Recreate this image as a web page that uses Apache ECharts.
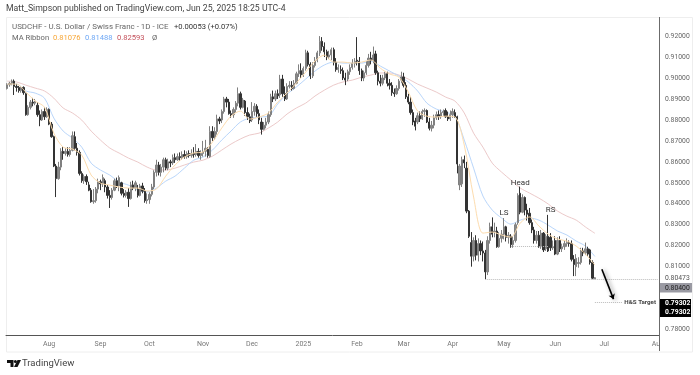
<!DOCTYPE html>
<html>
<head>
<meta charset="utf-8">
<style>html,body{margin:0;padding:0;background:#fff}#chart{width:700px;height:375px}</style>
<script src="https://cdn.jsdelivr.net/npm/echarts@6/dist/echarts.min.js"></script>
</head>
<body>
<div id="chart"></div>
<script>
// daily bars, one list per month: [open, close, low, high]
const jul24 = [[.8950,.8968,.8945,.8975],[.8968,.8975,.8958,.8982],[.8975,.8985,.8965,.8993],[.8985,.8960,.8919,.8993],[.8960,.8955,.8935,.8972],[.8955,.8940,.8930,.8962],[.8940,.8955,.8930,.8960],[.8955,.8930,.8920,.8960],[.8925,.8825,.8820,.8930],[.8825,.8860,.8820,.8870],[.8860,.8885,.8850,.8895],[.8885,.8880,.8865,.8905],[.8880,.8890,.8870,.8900],[.8870,.8825,.8815,.8885],[.8825,.8800,.8770,.8845],[.8800,.8840,.8795,.8850],[.8840,.8815,.8800,.8860],[.8815,.8850,.8810,.8860]];
const aug24 = [[.8850,.8780,.8775,.8855],[.8780,.8720,.8715,.8790],[.8720,.8580,.8575,.8725],[.8580,.8520,.8432,.8590],[.8520,.8575,.8515,.8600],[.8575,.8650,.8560,.8665],[.8650,.8640,.8610,.8670],[.8640,.8650,.8630,.8665],[.8650,.8635,.8625,.8670],[.8635,.8655,.8625,.8670],[.8655,.8725,.8650,.8745],[.8720,.8665,.8655,.8745],[.8665,.8645,.8630,.8690],[.8645,.8545,.8535,.8655],[.8545,.8510,.8500,.8555],[.8510,.8530,.8495,.8540],[.8530,.8505,.8490,.8540],[.8490,.8465,.8460,.8505],[.8465,.8410,.8405,.8475],[.8410,.8415,.8400,.8470],[.8415,.8470,.8405,.8480],[.8470,.8505,.8450,.8520]];
const sep24 = [[.8505,.8495,.8465,.8515],[.8495,.8525,.8480,.8540],[.8510,.8480,.8455,.8520],[.8480,.8440,.8425,.8490],[.8440,.8430,.8380,.8465],[.8430,.8465,.8420,.8475],[.8465,.8510,.8460,.8520],[.8510,.8485,.8475,.8525],[.8485,.8525,.8460,.8535],[.8500,.8450,.8440,.8505],[.8450,.8440,.8430,.8470],[.8440,.8455,.8430,.8465],[.8455,.8425,.8385,.8475],[.8425,.8490,.8420,.8505],[.8490,.8475,.8465,.8510],[.8475,.8500,.8460,.8510],[.8470,.8440,.8430,.8490],[.8440,.8485,.8435,.8495],[.8485,.8460,.8450,.8500],[.8460,.8415,.8405,.8475],[.8415,.8420,.8400,.8450]];
const oct24 = [[.8420,.8445,.8400,.8455],[.8445,.8480,.8435,.8495],[.8480,.8550,.8470,.8560],[.8550,.8585,.8530,.8610],[.8585,.8550,.8535,.8600],[.8550,.8575,.8530,.8590],[.8575,.8610,.8550,.8620],[.8610,.8570,.8560,.8620],[.8570,.8600,.8560,.8615],[.8600,.8595,.8575,.8610],[.8595,.8620,.8585,.8635],[.8620,.8610,.8595,.8640],[.8610,.8625,.8605,.8640],[.8625,.8620,.8605,.8645],[.8620,.8635,.8610,.8650],[.8635,.8625,.8615,.8655],[.8625,.8640,.8615,.8650],[.8640,.8630,.8620,.8655],[.8630,.8640,.8620,.8660],[.8640,.8635,.8620,.8670],[.8635,.8650,.8625,.8685],[.8650,.8630,.8620,.8665],[.8630,.8640,.8610,.8655]];
const nov24 = [[.8640,.8650,.8625,.8700],[.8650,.8665,.8625,.8705],[.8660,.8630,.8620,.8670],[.8625,.8745,.8620,.8770],[.8745,.8715,.8700,.8770],[.8715,.8745,.8705,.8765],[.8745,.8805,.8730,.8825],[.8805,.8795,.8780,.8815],[.8800,.8840,.8785,.8850],[.8840,.8900,.8830,.8910],[.8900,.8885,.8860,.8910],[.8885,.8830,.8825,.8900],[.8830,.8825,.8810,.8845],[.8825,.8850,.8810,.8860],[.8850,.8880,.8835,.8890],[.8880,.8925,.8865,.8955],[.8925,.8860,.8850,.8935],[.8860,.8895,.8855,.8905],[.8890,.8835,.8820,.8895],[.8835,.8815,.8800,.8860],[.8815,.8795,.8785,.8830]];
const dec24 = [[.8800,.8840,.8790,.8885],[.8840,.8865,.8820,.8880],[.8865,.8830,.8815,.8875],[.8830,.8800,.8780,.8850],[.8790,.8755,.8730,.8810],[.8755,.8775,.8750,.8790],[.8775,.8790,.8760,.8810],[.8790,.8825,.8780,.8840],[.8825,.8910,.8815,.8925],[.8910,.8900,.8885,.8940],[.8900,.8925,.8890,.8940],[.8925,.8915,.8900,.8945],[.8920,.8995,.8905,.9015],[.8995,.8925,.8910,.9015],[.8925,.8900,.8890,.8960],[.8900,.8960,.8895,.8975],[.8960,.8965,.8950,.8985],[.8965,.8950,.8940,.8985],[.8950,.8975,.8945,.8990],[.8975,.9020,.8970,.9030],[.9020,.9035,.9005,.9065],[.9035,.9015,.9000,.9070]];
const jan25 = [[.9015,.9045,.9005,.9055],[.9045,.9120,.9035,.9135],[.9120,.9065,.9055,.9130],[.9065,.9010,.8995,.9075],[.9010,.9060,.9000,.9075],[.9060,.9085,.9050,.9100],[.9085,.9120,.9075,.9130],[.9120,.9175,.9105,.9200],[.9175,.9150,.9130,.9195],[.9150,.9125,.9100,.9170],[.9125,.9100,.9085,.9135],[.9100,.9110,.9090,.9130],[.9110,.9135,.9085,.9145],[.9135,.9075,.9060,.9145],[.9075,.9040,.9030,.9095],[.9040,.9050,.9025,.9065],[.9040,.9035,.9020,.9060],[.9035,.9000,.8990,.9050],[.9000,.8990,.8966,.9025],[.8995,.9030,.8985,.9040],[.9030,.9050,.9015,.9065],[.9050,.9070,.9040,.9090],[.9070,.9080,.9050,.9095]];
const feb25 = [[.9085,.9080,.9060,.9195],[.9080,.9035,.9015,.9100],[.9035,.9000,.8985,.9045],[.9000,.9025,.8985,.9035],[.9025,.9060,.9015,.9080],[.9060,.9095,.9050,.9115],[.9095,.9085,.9065,.9125],[.9085,.9110,.9070,.9150],[.9115,.9025,.9015,.9130],[.9025,.8985,.8965,.9035],[.8985,.8975,.8960,.9015],[.8975,.9000,.8965,.9015],[.9000,.9020,.8990,.9030],[.9020,.8975,.8960,.9030],[.8975,.8965,.8945,.8995],[.8965,.8930,.8915,.8980],[.8930,.8925,.8910,.8950],[.8925,.8950,.8920,.8965],[.8950,.8985,.8940,.8995],[.8990,.9005,.8975,.9030]];
const mar25 = [[.9005,.8965,.8955,.9025],[.8965,.8910,.8900,.8980],[.8910,.8885,.8875,.8925],[.8885,.8835,.8825,.8910],[.8835,.8790,.8775,.8850],[.8795,.8770,.8750,.8810],[.8790,.8820,.8780,.8835],[.8820,.8805,.8790,.8840],[.8805,.8840,.8800,.8850],[.8840,.8845,.8815,.8855],[.8845,.8790,.8785,.8850],[.8790,.8760,.8750,.8810],[.8760,.8775,.8745,.8795],[.8775,.8810,.8760,.8825],[.8810,.8825,.8800,.8840],[.8825,.8815,.8800,.8845],[.8815,.8835,.8805,.8850],[.8835,.8840,.8820,.8850],[.8845,.8815,.8810,.8855],[.8815,.8805,.8795,.8840],[.8805,.8825,.8795,.8845]];
const apr25 = [[.8825,.8840,.8810,.8855],[.8835,.8815,.8810,.8850],[.8815,.8590,.8545,.8820],[.8490,.8580,.8465,.8590],[.8495,.8610,.8480,.8625],[.8610,.8595,.8570,.8630],[.8570,.8365,.8355,.8600],[.8365,.8245,.8237,.8370],[.8215,.8150,.8100,.8265],[.8150,.8225,.8125,.8240],[.8225,.8155,.8130,.8250],[.8155,.8210,.8125,.8235],[.8210,.8175,.8155,.8225],[.8175,.8165,.8125,.8220],[.8165,.8075,.8040,.8180],[.8075,.8225,.8060,.8245],[.8225,.8290,.8210,.8310],[.8290,.8255,.8240,.8335],[.8265,.8270,.8240,.8310],[.8270,.8195,.8190,.8290],[.8195,.8235,.8190,.8265],[.8235,.8255,.8215,.8275]];
const may25 = [[.8255,.8290,.8230,.8332],[.8290,.8240,.8220,.8295],[.8240,.8250,.8210,.8265],[.8245,.8205,.8190,.8255],[.8205,.8225,.8190,.8245],[.8225,.8300,.8215,.8310],[.8310,.8440,.8300,.8450],[.8450,.8360,.8350,.8482],[.8360,.8430,.8355,.8445],[.8430,.8370,.8345,.8435],[.8370,.8350,.8320,.8400],[.8355,.8310,.8300,.8380],[.8310,.8275,.8260,.8325],[.8275,.8225,.8210,.8290],[.8225,.8250,.8210,.8270],[.8250,.8195,.8190,.8270],[.8195,.8260,.8185,.8275],[.8260,.8180,.8170,.8265],[.8185,.8245,.8175,.8255],[.8245,.8175,.8170,.8347],[.8240,.8190,.8175,.8260],[.8190,.8195,.8180,.8225]];
const jun25 = [[.8225,.8160,.8155,.8245],[.8160,.8225,.8155,.8240],[.8225,.8185,.8170,.8245],[.8185,.8195,.8170,.8210],[.8195,.8210,.8180,.8225],[.8210,.8215,.8195,.8235],[.8215,.8210,.8195,.8225],[.8210,.8135,.8125,.8225],[.8135,.8110,.8055,.8155],[.8100,.8140,.8055,.8160],[.8115,.8120,.8095,.8145],[.8120,.8175,.8110,.8190],[.8175,.8165,.8150,.8190],[.8165,.8185,.8155,.8215],[.8185,.8160,.8150,.8195],[.8180,.8120,.8110,.8185],[.8120,.8045,.8040,.8130],[.80420,.80473,.8040,.8050]];

// ribbon read every 4th bar
const maEvery = 4;
const maFast = [.8971,.8971,.8933,.8890,.8861,.8737,.8670,.8661,.8632,.8537,.8499,.8489,.8480,.8475,.8475,.8461,.8470,.8532,.8585,.8623,.8642,.8647,.8694,.8761,.8818,.8842,.8804,.8814,.8833,.8885,.8928,.8976,.9028,.9081,.9109,.9076,.9076,.9071,.9076,.9086,.9047,.9019,.9004,.8933,.8842,.8818,.8814,.8818,.8814,.8680,.8432,.8260,.8265,.8251,.8241,.8308,.8337,.8294,.8255,.8232,.8222,.8198,.8160,.81076];
const maMid = [.8971,.8971,.8938,.8928,.8904,.8809,.8747,.8713,.8670,.8594,.8561,.8537,.8504,.8489,.8465,.8456,.8475,.8508,.8532,.8570,.8608,.8623,.8656,.8704,.8747,.8790,.8809,.8814,.8818,.8876,.8923,.8957,.8995,.9033,.9062,.9076,.9071,.9071,.9071,.9081,.9057,.9033,.9009,.8981,.8938,.8880,.8852,.8837,.8818,.8704,.8570,.8437,.8370,.8332,.8303,.8322,.8332,.8322,.8298,.8270,.8251,.8222,.8198,.81488];
const maSlow = [.8985,.8981,.8966,.8952,.8938,.8904,.8857,.8833,.8799,.8747,.8704,.8666,.8642,.8618,.8599,.8575,.8561,.8561,.8570,.8585,.8599,.8608,.8627,.8656,.8685,.8709,.8728,.8737,.8761,.8790,.8828,.8857,.8880,.8914,.8942,.8966,.8981,.8990,.9004,.9014,.9024,.9024,.9014,.8995,.8971,.8952,.8933,.8909,.8890,.8833,.8737,.8670,.8594,.8551,.8513,.8475,.8451,.8427,.8399,.8365,.8341,.8322,.8289,.82593];

const months = [jul24,aug24,sep24,oct24,nov24,dec24,jan25,feb25,mar25,apr25,may25,jun25];
const monthLabels = ['','Aug','Sep','Oct','Nov','Dec','2025','Feb','Mar','Apr','May','Jun'];
const futureMonths = [['',3],['Jul',23],['Aug',1]]; // empty bars right of the last candle
const priceTicks = [.92,.91,.90,.89,.88,.87,.86,.85,.84,.83,.82,.81,.78];
const lowLine = .8040, neckLine = .8198, targetPrice = .79302;

const bars = months.flat();
const categories = [];
months.forEach((m,k)=>m.forEach((b,i)=>categories.push(monthLabels[k]+'|'+k+'|'+i+'|'+(i==0?'t':''))));
futureMonths.forEach((f,k)=>{ for(let i=0;i<f[1];i++) categories.push(f[0]+'|f'+k+'|'+i+'|'+(i==0&&f[0]?'t':'')) });
const isTick = v=>v.endsWith('|t') && v.split('|')[0]!='';

function maSeries(name,vals,color,z){
    const data = bars.map((b,i)=>i%maEvery==0 ? vals[i/maEvery] : null);
    return {name:name,type:'line',data:data,connectNulls:true,smooth:.3,showSymbol:false,silent:true,
        lineStyle:{width:1,color:color},z:z};
}

const FONT = 'Roboto, "Liberation Sans", sans-serif';
const txt = (x,y,text,fill,size,extra)=>({type:'text',z:20,style:Object.assign({x:x,y:y,text:text,fill:fill,font:(size||8)+'px '+FONT,textVerticalAlign:'middle'},extra||{})});

const chart = echarts.init(document.getElementById('chart'),null,{renderer:'canvas'});
chart.setOption({
    animation:false,
    backgroundColor:'#fff',
    grid:{left:6,right:41,top:17,bottom:40},
    xAxis:{type:'category',data:categories,boundaryGap:true,
        axisLine:{lineStyle:{color:'#555',width:1}},axisTick:{show:false},splitLine:{show:false},
        axisLabel:{interval:(i,v)=>isTick(v),formatter:v=>v.split('|')[0],color:'#777',fontSize:7,fontFamily:FONT,margin:6,hideOverlap:false}},
    yAxis:{type:'value',position:'right',min:.7774,max:.9291,scale:true,splitLine:{show:false},axisLine:{show:false},axisTick:{show:false},
        axisLabel:{customValues:priceTicks,formatter:v=>v.toFixed(5),color:'#666',fontSize:6.8,fontFamily:FONT,margin:6,padding:[2,0,0,0]}},
    series:[
        maSeries('slow',maSlow,'#eccaca',3),
        maSeries('mid',maMid,'#b9d6fb',3),
        {type:'candlestick',data:bars,barWidth:1.8,z:4,silent:true,
            itemStyle:{color:'#8a8a8a',color0:'#333',borderColor:'#808080',borderColor0:'#333',borderWidth:1},
            markLine:{silent:true,symbol:'none',label:{show:false},
                lineStyle:{type:'dotted',color:'#bbb',width:1},
                data:[
                    [{coord:[categories[205],lowLine]},{coord:[categories[279],lowLine]}],
                    [{coord:[categories[216],neckLine]},{coord:[categories[232],neckLine]}],
                    [{coord:[categories[252],targetPrice]},{coord:[categories[264],targetPrice]}]
                ]},
            markPoint:{silent:true,symbol:'circle',symbolSize:1,itemStyle:{color:'transparent'},
                label:{color:'#333',fontSize:8,fontFamily:FONT,position:'inside'},
                data:[
                    {coord:[categories[220],.8499],value:'Head'},
                    {coord:[categories[213],.8357],value:'LS'},
                    {coord:[categories[233],.8370],value:'RS'},
                    {coord:[categories[264],targetPrice],value:'H&S Target',label:{position:'right',fontSize:6.2,fontWeight:'bold',color:'#444',distance:1}}
                ]}},
        maSeries('fast',maFast,'#fddcae',5),
        // arrow towards the target
        {type:'line',data:[],silent:true,z:6,
            markLine:{silent:true,symbol:['none','arrow'],symbolSize:5,label:{show:false},
                lineStyle:{type:'solid',color:'#000',width:1.6,shadowColor:'rgba(0,0,0,.45)',shadowBlur:4,shadowOffsetX:2,shadowOffsetY:1},
                data:[[{coord:[categories[255],.8088]},{coord:[categories[260],.7945]}]]}}
    ],
    graphic:[
        // card frame
        {type:'rect',z:-1,shape:{x:6.5,y:17.5,width:686,height:334.5},style:{fill:'#fff',stroke:'#eeeeee',lineWidth:1}},
        {type:'line',z:15,shape:{x1:659.5,y1:17,x2:659.5,y2:351},style:{stroke:'#6b6b6b',lineWidth:1}},
        // clips the Aug label at the price scale
        {type:'rect',z:14,shape:{x:660,y:337,width:12,height:13},style:{fill:'#fff'}},
        txt(6,9,'Matt_Simpson published on TradingView.com, Jun 25, 2025 18:25 UTC-4','#444',8.7),
        txt(12,27,'USDCHF - U.S. Dollar / Swiss Franc - 1D - ICE','#666',7.95),
        txt(174,27,'+0.00053 (+0.07%)','#333',7.6),
        txt(12,38,'MA Ribbon','#666',7.6),
        txt(53,38,'0.81076','#f7a738',7.6),
        txt(85,38,'0.81488','#6fa8f5',7.6),
        txt(117,38,'0.82593','#c4525c',7.6),
        txt(152,38,'Ø','#666',7.6),
        txt(665,278,'0.80473','#555',6.8),
        {type:'rect',z:18,shape:{x:660,y:283,width:32,height:9.5},style:{fill:'#9a9aa3'}},
        txt(665,288,'0.80400','#222',6.8),
        {type:'rect',z:18,shape:{x:660,y:299,width:31,height:18},style:{fill:'#000'}},
        txt(665,303.5,'0.79302','#fff',6.8,{font:'bold 6.8px '+FONT}),
        txt(665,312.5,'0.79302','#fff',6.8,{font:'bold 6.8px '+FONT}),
        // TV mark
        {type:'polygon',z:20,shape:{points:[[7,360],[13.5,360],[13.5,367],[10.5,367],[10.5,363],[7,363]]},style:{fill:'#111'}},
        {type:'circle',z:20,shape:{cx:15.4,cy:361.5,r:1.5},style:{fill:'#111'}},
        {type:'polygon',z:20,shape:{points:[[17.5,360],[21,360],[17.5,367],[14,367]]},style:{fill:'#111'}},
        txt(22,364,'TradingView','#444',9.5)
    ]
});
window.addEventListener('resize',()=>chart.resize());
</script>
</body>
</html>
